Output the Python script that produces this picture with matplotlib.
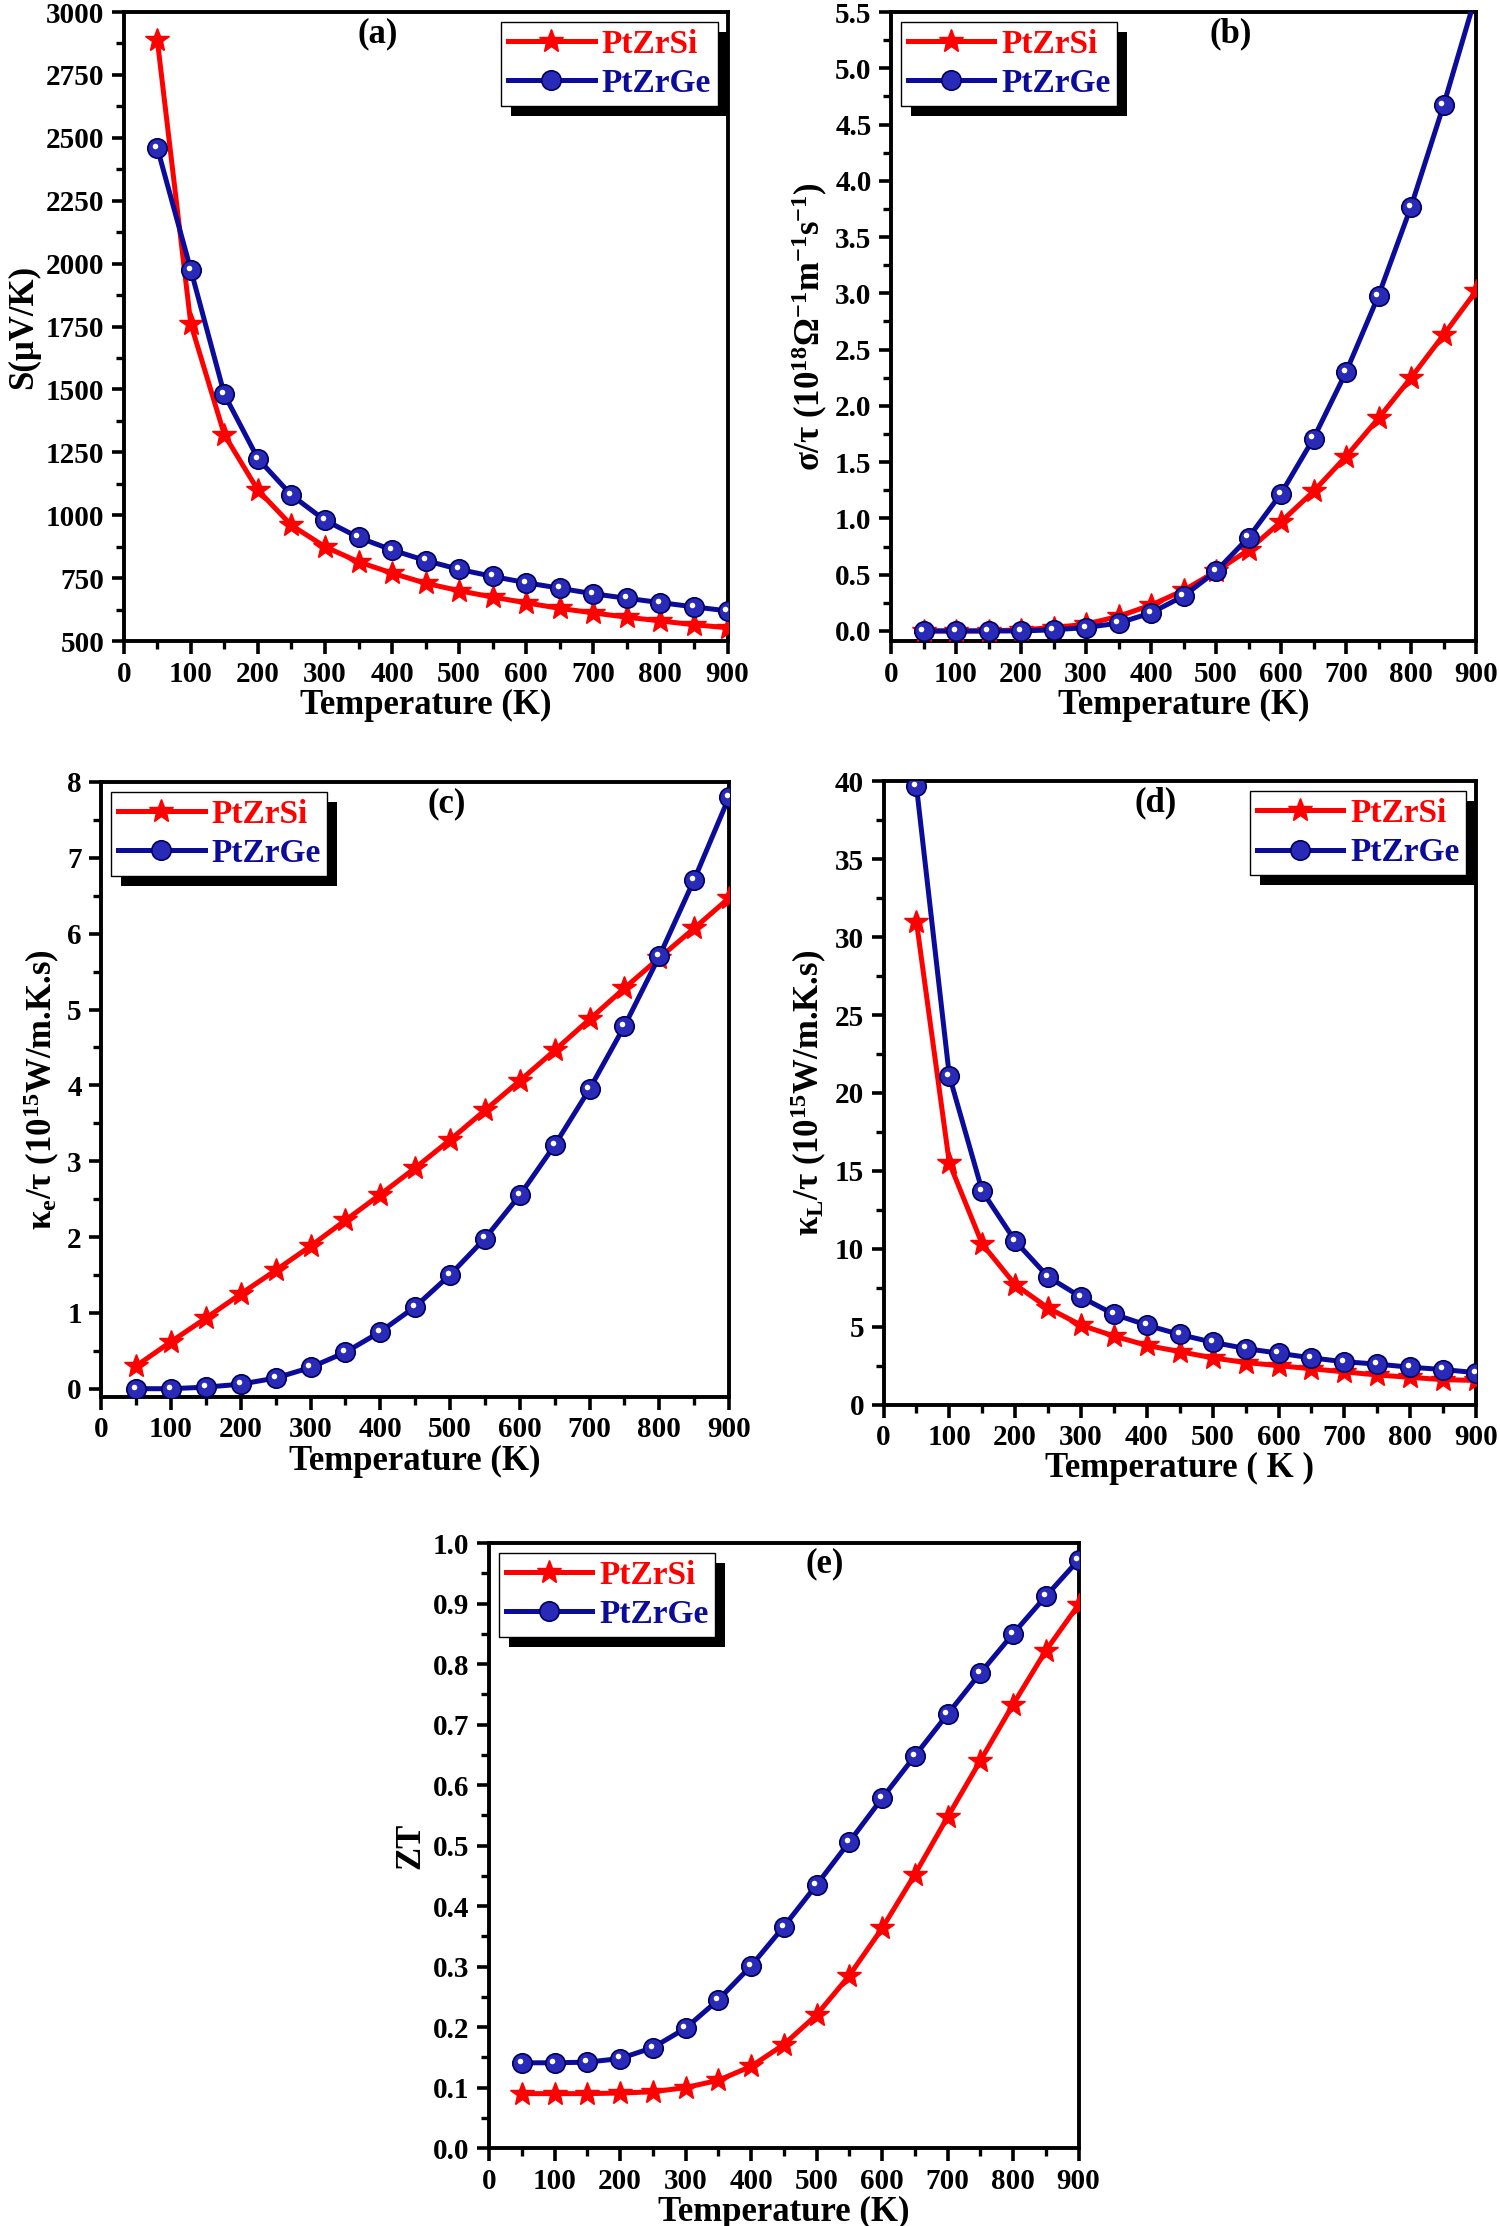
import matplotlib
matplotlib.use("Agg")
import matplotlib.pyplot as plt
import matplotlib.transforms as mtransforms
from matplotlib.patches import Rectangle
from matplotlib.ticker import MultipleLocator, FormatStrFormatter

# ---------------- fonts ----------------
plt.rcParams['font.family'] = ['Liberation Serif', 'DejaVu Serif']
plt.rcParams['font.weight'] = 'bold'
plt.rcParams['mathtext.fontset'] = 'custom'
plt.rcParams['mathtext.rm'] = 'Liberation Serif:bold'
plt.rcParams['mathtext.it'] = 'Liberation Serif:bold'
plt.rcParams['mathtext.bf'] = 'Liberation Serif:bold'
plt.rcParams['mathtext.default'] = 'bf'

# ---------------- data ----------------
temp = [50, 100, 150, 200, 250, 300, 350, 400, 450, 500,
        550, 600, 650, 700, 750, 800, 850, 900]

# (a) Seebeck coefficient
s_si = [2890, 1760, 1320, 1100, 960, 875, 815, 770, 730, 700,
        675, 652, 630, 612, 595, 580, 565, 553]
s_ge = [2460, 1975, 1480, 1225, 1080, 980, 912, 862, 820, 785,
        757, 732, 710, 688, 670, 653, 636, 620]

# (b) electrical conductivity / tau
sig_si = [0.0, 0.0, 0.0, 0.01, 0.03, 0.06, 0.13, 0.23, 0.36, 0.53,
          0.72, 0.97, 1.24, 1.55, 1.89, 2.25, 2.63, 3.02]
sig_ge = [0.0, 0.0, 0.0, 0.0, 0.01, 0.03, 0.07, 0.16, 0.31, 0.53,
          0.83, 1.22, 1.71, 2.30, 2.98, 3.77, 4.67, 5.65]

# (c) electronic thermal conductivity / tau
ke_si = [0.30, 0.62, 0.93, 1.25, 1.56, 1.88, 2.22, 2.56, 2.91, 3.28,
         3.67, 4.06, 4.46, 4.87, 5.28, 5.68, 6.07, 6.47]
ke_ge = [0.0, 0.0, 0.02, 0.06, 0.14, 0.28, 0.48, 0.75, 1.08, 1.50,
         1.98, 2.55, 3.21, 3.95, 4.78, 5.70, 6.71, 7.80]

# (d) lattice thermal conductivity / tau
kl_si = [31.0, 15.5, 10.3, 7.7, 6.2, 5.1, 4.4, 3.8, 3.4, 3.0,
         2.7, 2.5, 2.3, 2.1, 1.9, 1.75, 1.6, 1.55]
kl_ge = [39.7, 21.1, 13.7, 10.5, 8.2, 6.9, 5.8, 5.1, 4.5, 4.0,
         3.6, 3.3, 3.0, 2.75, 2.6, 2.4, 2.25, 2.05]

# (e) figure of merit
zt_si = [0.090, 0.090, 0.090, 0.091, 0.093, 0.100, 0.112, 0.135, 0.171, 0.220,
         0.285, 0.363, 0.452, 0.547, 0.640, 0.733, 0.822, 0.898]
zt_ge = [0.141, 0.141, 0.142, 0.148, 0.166, 0.198, 0.245, 0.301, 0.366, 0.435,
         0.506, 0.578, 0.648, 0.717, 0.785, 0.850, 0.912, 0.972]

labels = ['PtZrSi', 'PtZrGe']
RED = '#ff0000'
BLUE = '#0c0c9a'

# ---------------- layout ----------------
fig = plt.figure(figsize=(15, 22.26), dpi=100)

panels = [
    # rect, y si, y ge, ylim, major, minor, ylabel, xlabel, tag, tag x, legend loc, yfmt
    ([0.0825, 0.712, 0.4025, 0.2826], s_si, s_ge, (500, 3000), 250, 125,
     'S(μV/K)', 'Temperature (K)', '(a)', 0.42, 'upper right', '%d'),
    ([0.594, 0.712, 0.390, 0.2826], sig_si, sig_ge, (-0.09, 5.5), 0.5, 0.25,
     r'σ/τ (10$^{18}$Ω$^{-1}$m$^{-1}$s$^{-1}$)', 'Temperature (K)', '(b)', 0.58, 'upper left', '%.1f'),
    ([0.0675, 0.3724, 0.4185, 0.2763], ke_si, ke_ge, (-0.11, 8), 1, 0.5,
     r'κ$_{e}$/τ (10$^{15}$W/m.K.s)', 'Temperature (K)', '(c)', 0.55, 'upper left', '%d'),
    ([0.589, 0.369, 0.395, 0.280], kl_si, kl_ge, (0, 40), 5, 2.5,
     r'κ$_{L}$/τ (10$^{15}$W/m.K.s)', 'Temperature ( K )', '(d)', 0.46, 'upper right', '%d'),
    ([0.326, 0.035, 0.393, 0.2718], zt_si, zt_ge, (0, 1.0), 0.1, 0.05,
     'ZT', 'Temperature (K)', '(e)', 0.57, 'upper left', '%.1f'),
]

legends = []
for rect, ysi, yge, ylim, major, minor, ylab, xlab, tag, tagx, loc, yfmt in panels:
    ax = fig.add_axes(rect)
    ax.plot(temp, ysi, color=RED, lw=3.6, marker='*', ms=18, mec=RED, mfc=RED,
            label=labels[0], zorder=3)
    ax.plot(temp, yge, color=BLUE, lw=3.6, marker='o', ms=14, mec='#000060',
            mfc='#2a2ab8', mew=1.2, label=labels[1], zorder=3)
    # little highlight on the "sphere" markers
    hl = mtransforms.offset_copy(ax.transData, fig=fig, x=-1.5, y=1.5, units='points')
    ax.plot(temp, yge, ls='none', marker='o', ms=4, mfc='white', mec='none',
            transform=hl, zorder=4)

    ax.set_xlim(0, 900)
    ax.set_ylim(*ylim)
    ax.xaxis.set_major_locator(MultipleLocator(100))
    ax.xaxis.set_minor_locator(MultipleLocator(50))
    ax.yaxis.set_major_locator(MultipleLocator(major))
    ax.yaxis.set_minor_locator(MultipleLocator(minor))
    ax.yaxis.set_major_formatter(FormatStrFormatter(yfmt))
    ax.tick_params(which='major', direction='out', length=9, width=2.6,
                   labelsize=21, pad=5, top=False, right=False)
    ax.tick_params(which='minor', direction='out', length=5.5, width=2.4,
                   top=False, right=False)
    for sp in ax.spines.values():
        sp.set_linewidth(2.8)
    for t in ax.get_xticklabels() + ax.get_yticklabels():
        t.set_fontweight('bold')

    ax.set_xlabel(xlab, fontsize=25, fontweight='bold', labelpad=1)
    ax.set_ylabel(ylab, fontsize=25, fontweight='bold', labelpad=4)
    ax.text(tagx, 0.965, tag, transform=ax.transAxes, fontsize=25,
            fontweight='bold', ha='center', va='center')

    leg = ax.legend(loc=loc, fontsize=24, frameon=True, fancybox=False,
                    framealpha=1, handlelength=2.6, handletextpad=0.2,
                    borderpad=0.2, labelspacing=0.25, borderaxespad=0.3)
    leg.get_frame().set_edgecolor('black')
    leg.get_frame().set_linewidth(1.0)
    leg.set_zorder(6)
    for txt, c in zip(leg.get_texts(), [RED, BLUE]):
        txt.set_color(c)
        txt.set_fontweight('bold')
    legends.append((ax, leg))

# black drop shadows behind the legend boxes
fig.canvas.draw()
for ax, leg in legends:
    bb = leg.get_frame().get_window_extent()
    shifted = mtransforms.Bbox.from_extents(bb.x0 + 10, bb.y0 - 10, bb.x1 + 10, bb.y1 - 10)
    ab = shifted.transformed(ax.transAxes.inverted())
    ax.add_patch(Rectangle((ab.x0, ab.y0), ab.width, ab.height,
                           transform=ax.transAxes, facecolor='black',
                           edgecolor='none', zorder=5.5, clip_on=False))

fig.savefig('out.png', dpi=100)
